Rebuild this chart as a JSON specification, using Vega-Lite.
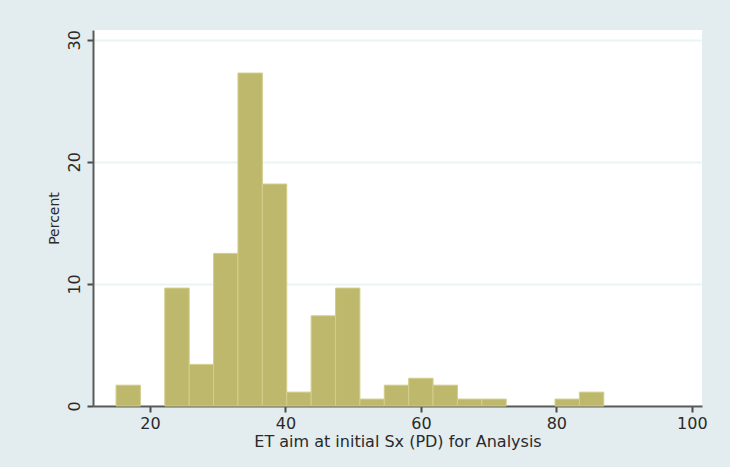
{
  "$schema": "https://vega.github.io/schema/vega-lite/v6.json",
  "width": 609,
  "height": 376,
  "autosize": {"type": "none"},
  "padding": {"left": 93, "top": 30, "right": 28, "bottom": 61},
  "background": "#e3ecee",
  "config": {
    "view": {"fill": "#ffffff", "stroke": null},
    "font": "DejaVu Sans",
    "axis": {
      "domainColor": "#5a5a5a",
      "domainWidth": 2,
      "tickColor": "#4a4a4a",
      "tickWidth": 2,
      "tickSize": 6,
      "labelFont": "DejaVu Sans",
      "labelFontSize": 16,
      "labelColor": "#2a2a2a",
      "titleFont": "DejaVu Sans",
      "titleFontSize": 14,
      "titleFontWeight": "normal",
      "titleColor": "#2a2a2a",
      "gridColor": "#e9f4f4",
      "gridWidth": 2
    }
  },
  "data": {
    "values": [
      {"bin_start": 15.0, "bin_end": 18.6, "percent": 1.705},
      {"bin_start": 22.2, "bin_end": 25.8, "percent": 9.659},
      {"bin_start": 25.8, "bin_end": 29.4, "percent": 3.409},
      {"bin_start": 29.4, "bin_end": 33.0, "percent": 12.5},
      {"bin_start": 33.0, "bin_end": 36.6, "percent": 27.273},
      {"bin_start": 36.6, "bin_end": 40.2, "percent": 18.182},
      {"bin_start": 40.2, "bin_end": 43.8, "percent": 1.136},
      {"bin_start": 43.8, "bin_end": 47.4, "percent": 7.386},
      {"bin_start": 47.4, "bin_end": 51.0, "percent": 9.659},
      {"bin_start": 51.0, "bin_end": 54.6, "percent": 0.568},
      {"bin_start": 54.6, "bin_end": 58.2, "percent": 1.705},
      {"bin_start": 58.2, "bin_end": 61.8, "percent": 2.273},
      {"bin_start": 61.8, "bin_end": 65.4, "percent": 1.705},
      {"bin_start": 65.4, "bin_end": 69.0, "percent": 0.568},
      {"bin_start": 69.0, "bin_end": 72.6, "percent": 0.568},
      {"bin_start": 79.8, "bin_end": 83.4, "percent": 0.568},
      {"bin_start": 83.4, "bin_end": 87.0, "percent": 1.136}
    ]
  },
  "mark": {"type": "bar", "fill": "#bdb86c", "stroke": "#d2ce8c", "strokeWidth": 1},
  "encoding": {
    "x": {
      "field": "bin_start",
      "type": "quantitative",
      "scale": {"domain": [11.6, 101.5], "nice": false, "zero": false},
      "axis": {
        "values": [20, 40, 60, 80, 100],
        "grid": false,
        "labelPadding": 16,
        "labelBaseline": "alphabetic",
        "title": "ET aim at initial Sx (PD) for Analysis",
        "titleFontSize": 16,
        "titleBaseline": "alphabetic",
        "titleY": 40,
        "titleX": 304.5,
        "titleAlign": "center"
      }
    },
    "x2": {"field": "bin_end"},
    "y": {
      "field": "percent",
      "type": "quantitative",
      "scale": {"domain": [0, 30.8], "nice": false},
      "axis": {
        "values": [0, 10, 20, 30],
        "grid": true,
        "labelAngle": -90,
        "labelAlign": "center",
        "labelBaseline": "alphabetic",
        "labelPadding": 8,
        "title": "Percent",
        "titleAngle": 270,
        "titleAlign": "center",
        "titleBaseline": "alphabetic",
        "titleX": -35,
        "titleY": 188
      }
    },
    "y2": {"datum": 0}
  }
}
